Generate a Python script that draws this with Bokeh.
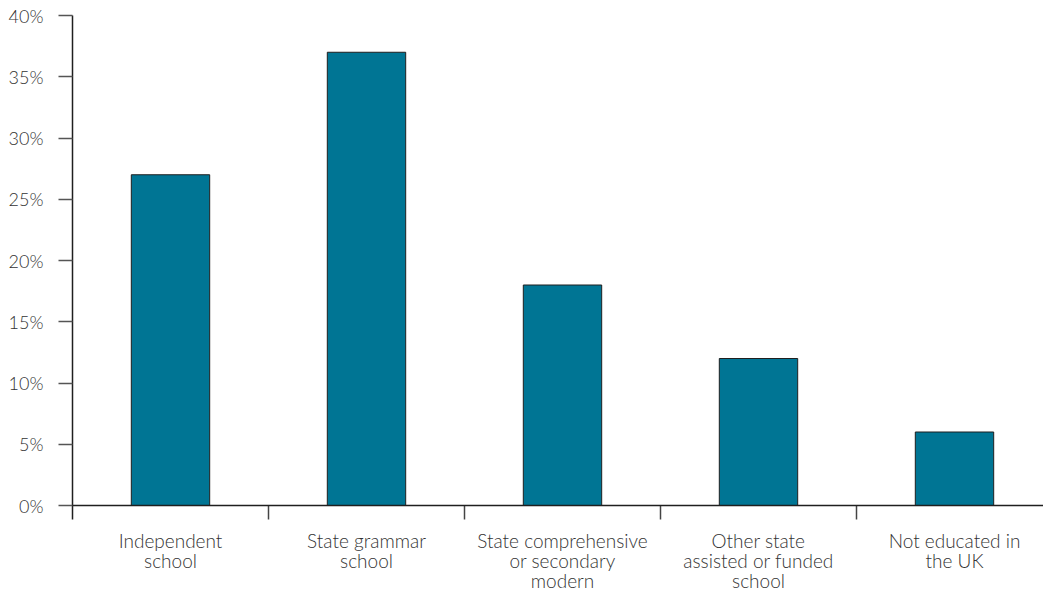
from bokeh.plotting import figure
from bokeh.models import FixedTicker, Span, Range1d
from bokeh.core.properties import value
from bokeh.embed import file_html
from bokeh.resources import INLINE

categories = ["Independent\nschool", "State grammar\nschool",
              "State comprehensive\nor secondary\nmodern",
              "Other state\nassisted or funded\nschool",
              "Not educated in\nthe UK"]
values = [27, 37, 18, 12, 6]
y_ticks = [0, 5, 10, 15, 20, 25, 30, 35, 40]
y_labels = [f"{t}%" for t in y_ticks]

FONT = "Lato Light"
TXT = "#333333"
n = len(categories)
centers = [i + 0.5 for i in range(n)]

W, H = 1043, 594
LEFT, TOP = 72, 15
PX = 196.0          # pixels per category
PY = 12.25          # pixels per percentage point
ZERO_PX = 505       # pixel row of 0%
TICK_LEN = 14
FIRST_BASELINE = 35  # px below the zero line (anchor)
LINE_GAP = 20        # px between label lines

y_min = -(H - ZERO_PX) / PY
p = figure(width=W, height=H, output_backend="svg", toolbar_location=None,
           x_range=Range1d(0, (W - LEFT) / PX), y_range=Range1d(y_min, 40),
           min_border_left=LEFT, min_border_right=0, min_border_top=TOP, min_border_bottom=0)
p.outline_line_color = None
p.grid.grid_line_color = None
p.xaxis.visible = False
p.background_fill_color = "white"

p.vbar(x=centers, top=values, bottom=0, width=0.4, fill_color="#007594",
       line_color="#1f1f1f", line_width=1)

p.add_layout(Span(location=0, dimension="width", line_color="#1f1f1f", line_width=1.5))
p.segment(x0=list(range(1, n)), y0=-TICK_LEN / PY, x1=list(range(1, n)), y1=0,
          line_color="#444444", line_width=1.5)

lx, ly, lt = [], [], []
for c, cat in zip(centers, categories):
    for i, line in enumerate(cat.split("\n")):
        lx.append(c)
        ly.append(-(FIRST_BASELINE + i * LINE_GAP) / PY)
        lt.append(line)
p.text(x=lx, y=ly, text=lt, text_align="center", text_baseline="alphabetic",
       text_font=value(FONT), text_font_size="19px", text_color=TXT)

ya = p.yaxis[0]
ya.ticker = FixedTicker(ticks=y_ticks)
ya.bounds = (-TICK_LEN / PY, 40)
ya.major_label_overrides = {t: l for t, l in zip(y_ticks, y_labels)}
ya.axis_line_color = "#1f1f1f"
ya.axis_line_width = 1.5
ya.major_tick_out = TICK_LEN
ya.major_tick_in = 0
ya.major_tick_line_color = "#555555"
ya.major_tick_line_width = 1.5
ya.minor_tick_line_color = None
ya.major_label_text_font = FONT
ya.major_label_text_font_size = "18px"
ya.major_label_text_color = TXT
ya.major_label_standoff = 15

open("out.html", "w").write(file_html(p, INLINE))
